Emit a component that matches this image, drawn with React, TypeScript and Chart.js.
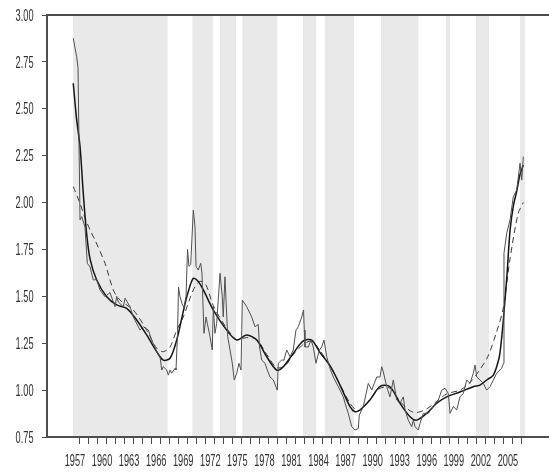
import React, { useEffect, useRef } from "react";
import { Chart, registerables } from "chart.js";

Chart.register(...registerables);

// Observed series (thin, noisy)
const actualYears = [
  1956.33, 1956.71, 1956.86, 1957.08, 1957.27, 1957.63, 1957.89, 1958.19, 1958.55, 1958.93,
  1959.29, 1959.85, 1960.4, 1960.96, 1961.15, 1961.32, 1961.88, 1962.07, 1962.62, 1962.99,
  1963.73, 1964.1, 1964.65, 1965.03, 1965.58, 1965.95, 1966.14, 1966.31, 1966.69, 1966.87,
  1967.06, 1967.24, 1967.61, 1967.72, 1967.89, 1968.0, 1968.16, 1968.39, 1968.61, 1968.83,
  1969.0, 1969.16, 1969.35, 1969.64, 1969.83, 1969.94, 1970.19, 1970.46, 1970.6, 1970.82,
  1971.05, 1971.19, 1971.49, 1971.74, 1971.86, 1972.04, 1972.23, 1972.6, 1972.85, 1972.96,
  1973.15, 1973.45, 1973.71, 1973.96, 1974.18, 1974.45, 1974.7, 1974.93, 1975.07, 1975.56,
  1976.11, 1976.48, 1976.84, 1976.98, 1977.22, 1977.59, 1977.84, 1978.14, 1978.51, 1978.95,
  1979.06, 1979.44, 1979.69, 1979.99, 1980.36, 1980.72, 1981.02, 1981.28, 1981.66, 1981.86,
  1981.94, 1982.02, 1982.39, 1982.69, 1982.94, 1983.24, 1983.61, 1983.87, 1984.13, 1984.43,
  1984.79, 1985.16, 1985.71, 1985.9, 1986.27, 1986.46, 1986.82, 1987.2, 1987.56, 1987.93,
  1988.04, 1988.48, 1989.04, 1989.42, 1989.97, 1990.34, 1990.52, 1990.7, 1991.08, 1991.44,
  1991.81, 1992.19, 1992.55, 1992.92, 1993.11, 1993.47, 1993.85, 1994.03, 1994.22, 1994.58,
  1994.77, 1995.14, 1995.69, 1996.24, 1996.8, 1997.18, 1997.54, 1997.91, 1998.1, 1998.46,
  1998.84, 1999.2, 1999.57, 1999.95, 2000.31, 2000.68, 2000.87, 2001.06, 2001.42, 2001.79,
  2002.16, 2002.53, 2002.9, 2003.27, 2003.83, 2004.03, 2004.08, 2004.38, 2004.75, 2005.11,
  2005.49, 2005.86, 2006.05, 2006.22,
];
const actualValues = [
  2.876, 2.777, 2.72, 1.907, 1.925, 1.87, 1.676, 1.657, 1.587, 1.59,
  1.534, 1.498, 1.52, 1.445, 1.5, 1.47, 1.445, 1.49, 1.445, 1.39,
  1.32, 1.338, 1.32, 1.267, 1.205, 1.178, 1.107, 1.125, 1.107, 1.08,
  1.107, 1.09, 1.116, 1.107, 1.3, 1.55, 1.5, 1.46, 1.44, 1.5,
  1.75, 1.66, 1.67, 1.96, 1.87, 1.66, 1.64, 1.676, 1.623, 1.303,
  1.39, 1.356, 1.285, 1.214, 1.445, 1.303, 1.356, 1.623, 1.498, 1.39,
  1.604, 1.285, 1.214, 1.143, 1.054, 1.09, 1.143, 1.107, 1.48, 1.445,
  1.39, 1.338, 1.35, 1.23, 1.16, 1.143, 1.107, 1.07, 1.054, 1.0,
  1.143, 1.16, 1.16, 1.214, 1.178, 1.214, 1.32, 1.338, 1.39, 1.427,
  1.32, 1.23, 1.23, 1.267, 1.23, 1.143, 1.214, 1.23, 1.267, 1.178,
  1.115, 1.07, 1.018, 1.0, 0.964, 0.93, 0.876, 0.805, 0.787, 0.796,
  0.867, 0.912, 1.036, 1.0, 1.07, 1.07, 1.125, 1.098, 1.018, 0.964,
  1.054, 0.947, 0.93, 0.964, 0.894, 0.84, 0.805, 0.84, 0.805, 0.787,
  0.823, 0.876, 0.876, 0.912, 0.947, 1.0, 1.01, 0.982, 0.876, 0.912,
  0.894, 0.964, 0.982, 1.054, 1.036, 1.09, 1.134, 1.07, 1.054, 1.036,
  1.0, 1.018, 1.054, 1.09, 1.116, 1.143, 1.73, 1.836, 1.907, 2.03,
  2.067, 2.21, 2.12, 2.245,
];

// Smoothed trend (solid)
const trendYears = [
  1956.33, 1956.69, 1957.08, 1957.44, 1957.8, 1958.19, 1958.93, 1960.04, 1961.15, 1962.25,
  1963.36, 1964.47, 1965.58, 1966.31, 1967.06, 1967.8, 1968.53, 1969.05, 1969.64, 1970.16,
  1970.75, 1971.86, 1973.34, 1974.45, 1975.56, 1976.67, 1977.78, 1978.88, 1979.62, 1980.72,
  1981.83, 1982.76, 1983.69, 1984.79, 1985.9, 1987.01, 1987.56, 1988.11, 1989.22, 1990.34,
  1991.44, 1992.55, 1993.66, 1994.4, 1995.51, 1996.62, 1997.73, 1999.2, 2000.68, 2001.42,
  2002.16, 2002.9, 2003.42, 2003.64, 2004.0, 2004.42, 2004.75, 2005.11, 2005.49, 2005.86,
  2006.22,
];
const trendValues = [
  2.636, 2.45, 2.3, 2.05, 1.84, 1.7, 1.587, 1.498, 1.454, 1.436,
  1.374, 1.294, 1.205, 1.16, 1.17, 1.267, 1.42, 1.52, 1.596, 1.58,
  1.534, 1.427, 1.32, 1.267, 1.294, 1.267, 1.178, 1.107, 1.125, 1.196,
  1.262, 1.267, 1.2, 1.13, 1.027, 0.912, 0.885, 0.894, 0.947, 1.02,
  1.018, 0.93, 0.858, 0.84, 0.876, 0.93, 0.964, 0.99, 1.018, 1.027,
  1.054, 1.08, 1.15, 1.2, 1.37, 1.62, 1.85, 1.98, 2.06, 2.15,
  2.2,
];

// Alternative trend (dashed)
const altTrendYears = [
  1956.33, 1957.08, 1957.63, 1958.19, 1958.74, 1959.85, 1960.77, 1961.51, 1962.99, 1964.47,
  1965.58, 1966.31, 1967.06, 1967.8, 1968.53, 1969.64, 1970.38, 1971.05, 1971.86, 1973.34,
  1974.45, 1975.56, 1976.67, 1977.78, 1978.88, 1979.8, 1980.9, 1982.02, 1982.8, 1983.69,
  1984.79, 1985.9, 1987.01, 1987.78, 1988.34, 1989.22, 1990.34, 1991.44, 1992.55, 1993.66,
  1994.4, 1995.51, 1996.62, 1997.73, 1999.2, 2000.31, 2001.42, 2002.3, 2003.19, 2003.97,
  2004.75, 2005.64, 2006.22,
];
const altTrendValues = [
  2.085, 1.996, 1.92, 1.854, 1.8, 1.676, 1.534, 1.48, 1.427, 1.32,
  1.223, 1.205, 1.23, 1.32, 1.39, 1.534, 1.58, 1.56, 1.45, 1.33,
  1.27, 1.28, 1.27, 1.19, 1.12, 1.13, 1.2, 1.25, 1.26, 1.21,
  1.13, 1.03, 0.93, 0.89, 0.9, 0.95, 1.01, 1.01, 0.94, 0.89,
  0.88, 0.9, 0.94, 0.98, 1.0, 1.04, 1.11, 1.18, 1.3, 1.43,
  1.7, 1.94, 2.0,
];

// Shaded periods: start and end year of each band
const bandStarts = [1956.3, 1969.53, 1972.6, 1975.07, 1981.8, 1984.2, 1990.45, 1997.65, 2000.98, 2005.86];
const bandEnds = [1966.8, 1971.8, 1974.37, 1978.95, 1983.26, 1987.46, 1994.58, 1998.1, 2002.42, 2006.4];

// Axes
const yTickValues = [0.75, 1.0, 1.25, 1.5, 1.75, 2.0, 2.25, 2.5, 2.75, 3.0];
const yTickLabels = ["0.75", "1.00", "1.25", "1.50", "1.75", "2.00", "2.25", "2.50", "2.75", "3.00"];
const yearTickValues = [
  1957, 1958, 1959, 1960, 1961, 1962, 1963, 1964, 1965, 1966,
  1967, 1968, 1969, 1970, 1971, 1972, 1973, 1974, 1975, 1976,
  1977, 1978, 1979, 1980, 1981, 1982, 1983, 1984, 1985, 1986,
  1987, 1988, 1989, 1990, 1991, 1992, 1993, 1994, 1995, 1996,
  1997, 1998, 1999, 2000, 2001, 2002, 2003, 2004, 2005, 2006,
];
const xLabelYears = [1957, 1960, 1963, 1966, 1969, 1972, 1975, 1978, 1981, 1984, 1987, 1990, 1993, 1996, 1999, 2002, 2005];
const xLabels = ["1957", "1960", "1963", "1966", "1969", "1972", "1975", "1978", "1981", "1984", "1987", "1990", "1993", "1996", "1999", "2002", "2005"];

const AXIS_COLOR = "#4d4d4d";
const TEXT_COLOR = "#303030";
const BAND_COLOR = "#e9e9e9";
const LABEL_FONT = '17px "Liberation Sans Narrow", "Arial Narrow", "Liberation Sans", sans-serif';

const toPoints = (xs: number[], ys: number[]) => xs.map((x, i) => ({ x, y: ys[i] }));

const bandsPlugin = {
  id: "bands",
  beforeDraw(chart: any) {
    const { ctx, chartArea, scales } = chart;
    ctx.save();
    ctx.fillStyle = BAND_COLOR;
    bandStarts.forEach((s, i) => {
      const x0 = scales.x.getPixelForValue(s);
      const x1 = scales.x.getPixelForValue(bandEnds[i]);
      ctx.fillRect(x0, chartArea.top, x1 - x0, chartArea.bottom - chartArea.top);
    });
    ctx.restore();
  },
};

const labelsPlugin = {
  id: "axisLabels",
  afterDraw(chart: any) {
    const { ctx, chartArea, scales } = chart;
    ctx.save();
    // frame line across the top
    ctx.strokeStyle = AXIS_COLOR;
    ctx.lineWidth = 2;
    ctx.beginPath();
    ctx.moveTo(chartArea.left - 1, chartArea.top);
    ctx.lineTo(chartArea.right, chartArea.top);
    ctx.stroke();

    ctx.font = LABEL_FONT;
    ctx.fillStyle = TEXT_COLOR;
    // condensed figures
    const sx = 20.5 / ctx.measureText("1957").width;
    ctx.textBaseline = "middle";

    ctx.textAlign = "right";
    yTickValues.forEach((v, i) => {
      const py = scales.y.getPixelForValue(v);
      ctx.save();
      ctx.translate(33.5, py + 1);
      ctx.scale(sx, 1);
      ctx.fillText(yTickLabels[i], 0, 0);
      ctx.restore();
    });

    ctx.textAlign = "center";
    xLabelYears.forEach((yr, i) => {
      const px = scales.x.getPixelForValue(yr) - 4.3;
      ctx.save();
      ctx.translate(px, 461);
      ctx.scale(sx, 1);
      ctx.fillText(xLabels[i], 0, 0);
      ctx.restore();
    });
    ctx.restore();
  },
};

export default function App() {
  const canvasRef = useRef<HTMLCanvasElement | null>(null);

  useEffect(() => {
    const canvas = canvasRef.current;
    if (!canvas) return;
    const chart = new Chart(canvas, {
      type: "line",
      data: {
        datasets: [
          {
            data: toPoints(actualYears, actualValues),
            borderColor: "#505050",
            borderWidth: 1,
            pointRadius: 0,
            tension: 0,
          },
          {
            data: toPoints(trendYears, trendValues),
            borderColor: "#151515",
            borderWidth: 1.5,
            pointRadius: 0,
            tension: 0.3,
          },
          {
            data: toPoints(altTrendYears, altTrendValues),
            borderColor: "#3a3a3a",
            borderWidth: 1,
            borderDash: [6, 4],
            pointRadius: 0,
            tension: 0.3,
          },
        ],
      },
      options: {
        responsive: false,
        animation: false,
        events: [],
        layout: { padding: { top: 15, left: 0, right: 0, bottom: 0 } },
        plugins: {
          legend: { display: false },
          tooltip: { enabled: false },
        },
        scales: {
          x: {
            type: "linear",
            min: 1953.42,
            max: 2009.07,
            afterBuildTicks: (scale: any) => {
              scale.ticks = yearTickValues.map((v) => ({ value: v }));
            },
            afterFit: (scale: any) => {
              scale.height = 37;
            },
            ticks: { display: false },
            grid: {
              display: true,
              drawOnChartArea: false,
              drawTicks: true,
              tickLength: 7,
              color: AXIS_COLOR,
              lineWidth: 1,
            },
            border: { display: true, color: AXIS_COLOR, width: 2 },
          },
          y: {
            type: "linear",
            min: 0.75,
            max: 3.0,
            afterBuildTicks: (scale: any) => {
              scale.ticks = yTickValues.map((v) => ({ value: v }));
            },
            afterFit: (scale: any) => {
              scale.width = 47;
            },
            ticks: { display: false },
            grid: {
              display: true,
              drawOnChartArea: false,
              drawTicks: true,
              tickLength: 5,
              color: AXIS_COLOR,
              lineWidth: 1,
            },
            border: { display: true, color: AXIS_COLOR, width: 2 },
          },
        },
      },
      plugins: [bandsPlugin, labelsPlugin],
    });
    return () => chart.destroy();
  }, []);

  return (
    <div style={{ position: "fixed", left: 0, top: 0, width: 549, height: 474, background: "#fff" }}>
      <canvas ref={canvasRef} width={549} height={474} />
    </div>
  );
}
